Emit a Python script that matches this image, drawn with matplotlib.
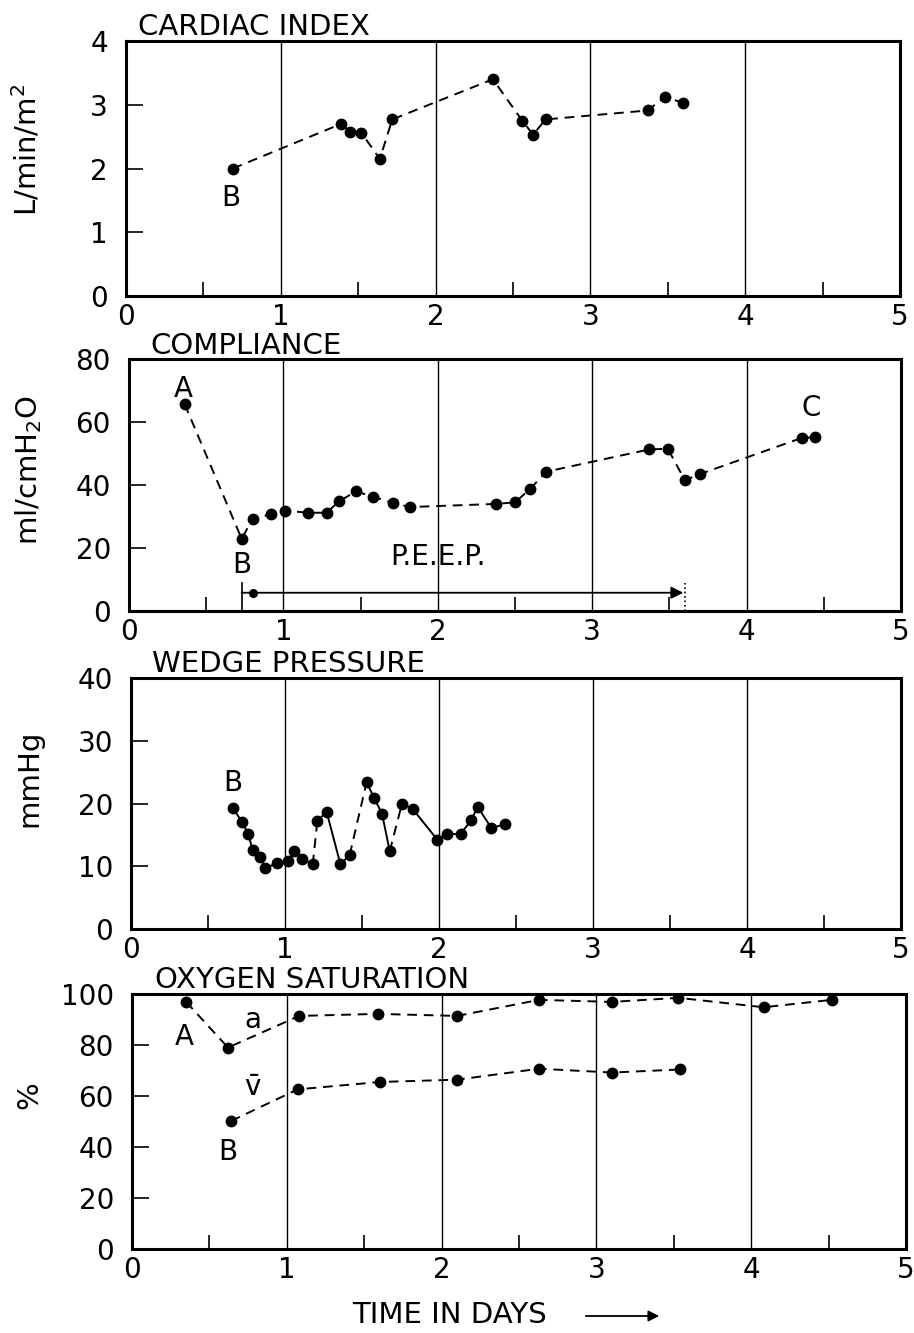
import matplotlib
matplotlib.use("Agg")
import matplotlib.pyplot as plt
import numpy as np

# ---------------- data ----------------
ci_days = [0.69, 1.39, 1.45, 1.52, 1.64, 1.72, 2.37, 2.56, 2.63, 2.71, 3.37, 3.48, 3.60]
ci_vals = [2.00, 2.70, 2.57, 2.56, 2.15, 2.77, 3.40, 2.75, 2.53, 2.77, 2.91, 3.12, 3.03]

comp_days = [0.36, 0.73, 0.80, 0.92, 1.01, 1.16, 1.28, 1.36, 1.47, 1.58, 1.71, 1.82,
             2.38, 2.50, 2.60, 2.70, 3.37, 3.49, 3.60, 3.70, 4.36, 4.44]
comp_vals = [65.7, 22.9, 29.3, 30.7, 31.9, 31.2, 31.2, 34.8, 38.0, 36.3, 34.3, 33.0,
             34.0, 34.5, 38.8, 44.2, 51.3, 51.5, 41.5, 43.5, 55.0, 55.1]
peep_start, peep_end = 0.73, 3.60

wp_days = [0.66, 0.72, 0.76, 0.79, 0.84, 0.87, 0.95, 1.02, 1.06, 1.11, 1.18, 1.21,
           1.27, 1.36, 1.42, 1.53, 1.58, 1.63, 1.68, 1.76, 1.83, 1.99, 2.05, 2.14,
           2.21, 2.25, 2.34, 2.43]
wp_vals = [19.3, 17.1, 15.2, 12.6, 11.5, 9.7, 10.5, 10.8, 12.5, 11.2, 10.3, 17.2,
           18.7, 10.3, 11.8, 23.4, 20.8, 18.4, 12.4, 20.0, 19.1, 14.2, 15.2, 15.2,
           17.3, 19.5, 16.1, 16.7]
wp_segment_dashed = [False, True, False, True, False, False, False, False, False, False,
                     True, False, False, False, True, False, False, False, True, False,
                     False, False, False, False, False, False, False]

sa_days = [0.35, 0.62, 1.08, 1.59, 2.10, 2.63, 3.10, 3.53, 4.08, 4.52]
sa_vals = [96.9, 79.0, 91.4, 92.2, 91.4, 97.7, 96.9, 98.5, 94.8, 97.7]
sv_days = [0.64, 1.07, 1.60, 2.10, 2.63, 3.10, 3.54]
sv_vals = [50.2, 62.6, 65.5, 66.4, 70.7, 69.2, 70.4]

x_ticks = [0, 1, 2, 3, 4, 5]
titles = ["CARDIAC INDEX", "COMPLIANCE", "WEDGE PRESSURE", "OXYGEN SATURATION"]
ylabels = ["L/min/m$^2$", "ml/cmH$_2$O", "mmHg", "%"]
y_ticks = [[0, 1, 2, 3, 4], [0, 20, 40, 60, 80], [0, 10, 20, 30, 40], [0, 20, 40, 60, 80, 100]]

# ---------------- figure ----------------
W, H = 914, 1333
plt.rcParams['font.family'] = ['DejaVu Sans']
plt.rcParams['mathtext.fontset'] = 'dejavusans'
fig = plt.figure(figsize=(W / 100, H / 100), dpi=100)

boxes = [(126, 900, 41, 296), (129, 901, 359, 611), (131, 901, 678, 929), (132, 906, 994, 1249)]
title_pos = [(138, 35), (150, 354), (152, 672), (155, 988)]
ylabel_pos = [(27, 150), (29, 470), (29, 778), (29, 1095)]

FS = 20
TFS = 21
axes = []
for i, (l, r, t, b) in enumerate(boxes):
    ax = fig.add_axes([l / W, 1 - b / H, (r - l) / W, (b - t) / H])
    ax.set_xlim(0, 5)
    ax.set_ylim(y_ticks[i][0], y_ticks[i][-1])
    ax.set_xticks(x_ticks)
    ax.set_xticks([0.5, 1.5, 2.5, 3.5, 4.5], minor=True)
    ax.set_yticks(y_ticks[i])
    ax.tick_params(axis='x', which='major', length=0, pad=5, labelsize=FS)
    ax.tick_params(axis='x', which='minor', direction='in', length=10, width=1.2)
    ax.tick_params(axis='y', which='major', direction='in', length=12, width=1.2,
                   pad=13, labelsize=FS)
    ax.xaxis.grid(True, which='major', color='black', linewidth=1.0)
    for s in ax.spines.values():
        s.set_linewidth(2.2)
    tx, ty = title_pos[i]
    fig.text(tx / W, 1 - ty / H, titles[i], fontsize=TFS, ha='left', va='baseline')
    yx, yy = ylabel_pos[i]
    fig.text(yx / W, 1 - yy / H, ylabels[i], fontsize=TFS, rotation=90,
             ha='center', va='center')
    axes.append(ax)

dash = dict(color='black', linestyle=(0, (5, 3.5)), linewidth=1.4,
            marker='o', markersize=7.5)

# Cardiac index
ax = axes[0]
ax.plot(ci_days, ci_vals, **dash)
ax.text(ci_days[0] - 0.01, 1.53, "B", fontsize=FS, ha='center', va='center')

# Compliance
ax = axes[1]
ax.plot(comp_days, comp_vals, **dash)
ax.text(comp_days[0] - 0.01, 70.5, "A", fontsize=FS, ha='center', va='center')
ax.text(comp_days[1], 14.5, "B", fontsize=FS, ha='center', va='center')
ax.text(comp_days[-1] - 0.02, 64.5, "C", fontsize=FS, ha='center', va='center')
ax.plot([peep_start, peep_start], [0, 9], color='black', linewidth=1.2)
ax.plot([peep_end, peep_end], [0, 9], color='black', linewidth=1.2, linestyle=':')
ax.plot([peep_start + 0.07], [5.8], 'o', color='black', markersize=5.5)
ax.annotate("", xy=(peep_end - 0.01, 5.8), xytext=(peep_start, 5.8),
            arrowprops=dict(arrowstyle='-|>', color='black', lw=1.3,
                            mutation_scale=18, shrinkA=0, shrinkB=0))
ax.text(2.0, 17, "P.E.E.P.", fontsize=FS, ha='center', va='center')

# Wedge pressure
ax = axes[2]
for k in range(len(wp_days) - 1):
    ls = (0, (5, 3.5)) if wp_segment_dashed[k] else '-'
    ax.plot(wp_days[k:k + 2], wp_vals[k:k + 2], color='black', linestyle=ls, linewidth=1.4)
ax.plot(wp_days, wp_vals, 'o', color='black', markersize=7.5)
ax.text(0.66, 23.2, "B", fontsize=FS, ha='center', va='center')

# Oxygen saturation
ax = axes[3]
ax.plot(sa_days, sa_vals, **dash)
ax.plot(sv_days, sv_vals, **dash)
ax.text(0.34, 83, "A", fontsize=FS, ha='center', va='center')
ax.text(0.78, 90, "a", fontsize=FS, ha='center', va='center')
ax.text(0.78, 63, r"$\bar{\mathrm{v}}$", fontsize=FS, ha='center', va='center')
ax.text(0.62, 38, "B", fontsize=FS, ha='center', va='center')

# x label with arrow
fig.text(450 / W, 1 - 1315 / H, "TIME IN DAYS", fontsize=TFS, ha='center', va='center')
fig.add_artist(matplotlib.patches.FancyArrowPatch(
    (583 / W, 1 - 1316 / H), (662 / W, 1 - 1316 / H), transform=fig.transFigure,
    arrowstyle='-|>', mutation_scale=16, color='black', lw=1.3))

fig.savefig("out.png", dpi=100, facecolor='white')
